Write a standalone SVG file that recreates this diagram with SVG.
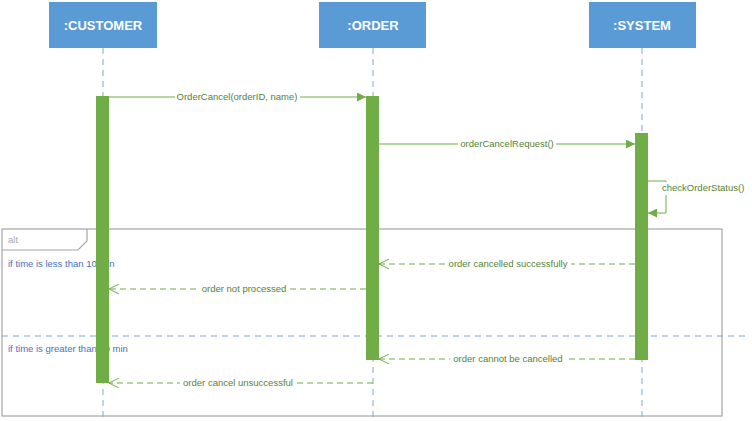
<svg xmlns="http://www.w3.org/2000/svg" width="752" height="421" viewBox="0 0 752 421">
<style>
.head{fill:#5b9bd5}
.headtxt{fill:#fff;font-family:"Liberation Sans",Arial,sans-serif;font-weight:bold;font-size:13px;text-anchor:middle}
.life{stroke:#7ea6d8;stroke-width:1;stroke-dasharray:6,5;fill:none}
.act{fill:#70ad47}
.msg{stroke:#70ad47;stroke-width:1;fill:none}
.ret{stroke:#70ad47;stroke-width:1;fill:none;stroke-dasharray:6,4}
.lbl{fill:#548235;font-family:"Liberation Sans",Arial,sans-serif;font-size:9.5px;text-anchor:middle}
.bg{fill:#fff}
.cond{fill:#4472c4;font-family:"Liberation Sans",Arial,sans-serif;font-size:9.5px}
.frame{stroke:#a6a6a6;stroke-width:1.2;fill:none}
</style>
<defs>
<marker id="filled" viewBox="0 0 10 10" refX="10" refY="5" markerWidth="9" markerHeight="9" orient="auto" markerUnits="userSpaceOnUse">
<path d="M0,0 L10,5 L0,10 z" fill="#70ad47"/>
</marker>
<marker id="open" viewBox="0 0 10 10" refX="10" refY="5" markerWidth="10" markerHeight="10" orient="auto" markerUnits="userSpaceOnUse">
<path d="M0,0 L10,5 L0,10" fill="none" stroke="#70ad47" stroke-width="1"/>
</marker>
</defs>
<rect width="752" height="421" fill="#fff"/>

<g id="lifelines">
<line class="life" x1="103" y1="48" x2="103" y2="421"/>
<line class="life" x1="373" y1="48" x2="373" y2="421"/>
<line class="life" x1="642" y1="48" x2="642" y2="421"/>
</g>

<g id="node-customer">
<rect class="head" x="49" y="2" width="108" height="46"/>
<text class="headtxt" x="103" y="30">:CUSTOMER</text>
</g>
<g id="node-order">
<rect class="head" x="319" y="2" width="107" height="46"/>
<text class="headtxt" x="373" y="30">:ORDER</text>
</g>
<g id="node-system">
<rect class="head" x="589" y="2" width="107" height="46"/>
<text class="headtxt" x="642" y="30">:SYSTEM</text>
</g>

<g id="alt-frame">
<rect class="frame" x="2" y="229" width="720" height="187"/>
<path class="frame" d="M2,250 H78 L87,241 V229"/>
<text x="8" y="243" fill="#a6a6a6" font-family="Liberation Sans, Arial, sans-serif" font-size="9.5">alt</text>
<line x1="2" y1="336" x2="746" y2="336" stroke="#7ea6d8" stroke-width="1" stroke-dasharray="6,5"/>
<text class="cond" x="8" y="267">if time is less than 10 min</text>
<text class="cond" x="8" y="352">if time is greater than 10 min</text>
</g>

<g id="activations">
<rect class="act" x="96" y="96" width="13" height="287"/>
<rect class="act" x="366" y="96" width="13" height="264"/>
<rect class="act" x="635" y="133" width="13" height="227"/>
</g>

<g id="connectors">
<line class="msg" x1="109" y1="97" x2="366" y2="97" marker-end="url(#filled)"/>
<rect class="bg" x="175" y="90" width="125" height="13"/>
<text class="lbl" x="237" y="100">OrderCancel(orderID, name)</text>

<line class="msg" x1="379" y1="144" x2="635" y2="144" marker-end="url(#filled)"/>
<rect class="bg" x="458" y="137" width="98" height="13"/>
<text class="lbl" x="507" y="147">orderCancelRequest()</text>

<path class="msg" d="M648,181 H666 V213 H648" marker-end="url(#filled)"/>
<rect class="bg" x="661" y="182" width="86" height="13"/>
<text class="lbl" x="662" y="191" style="text-anchor:start">checkOrderStatus()</text>

<line class="ret" x1="635" y1="264" x2="379" y2="264" marker-end="url(#open)"/>
<rect class="bg" x="445" y="257" width="126" height="13"/>
<text class="lbl" x="508" y="267">order cancelled successfully</text>

<line class="ret" x1="366" y1="289" x2="109" y2="289" marker-end="url(#open)"/>
<rect class="bg" x="198" y="282" width="92" height="13"/>
<text class="lbl" x="244" y="292">order not processed</text>

<line class="ret" x1="635" y1="359" x2="379" y2="359" marker-end="url(#open)"/>
<rect class="bg" x="450" y="352" width="116" height="13"/>
<text class="lbl" x="508" y="362">order cannot be cancelled</text>

<line class="ret" x1="373" y1="383" x2="109" y2="383" marker-end="url(#open)"/>
<rect class="bg" x="180" y="376" width="116" height="13"/>
<text class="lbl" x="238" y="386">order cancel unsuccessful</text>
</g>
</svg>
